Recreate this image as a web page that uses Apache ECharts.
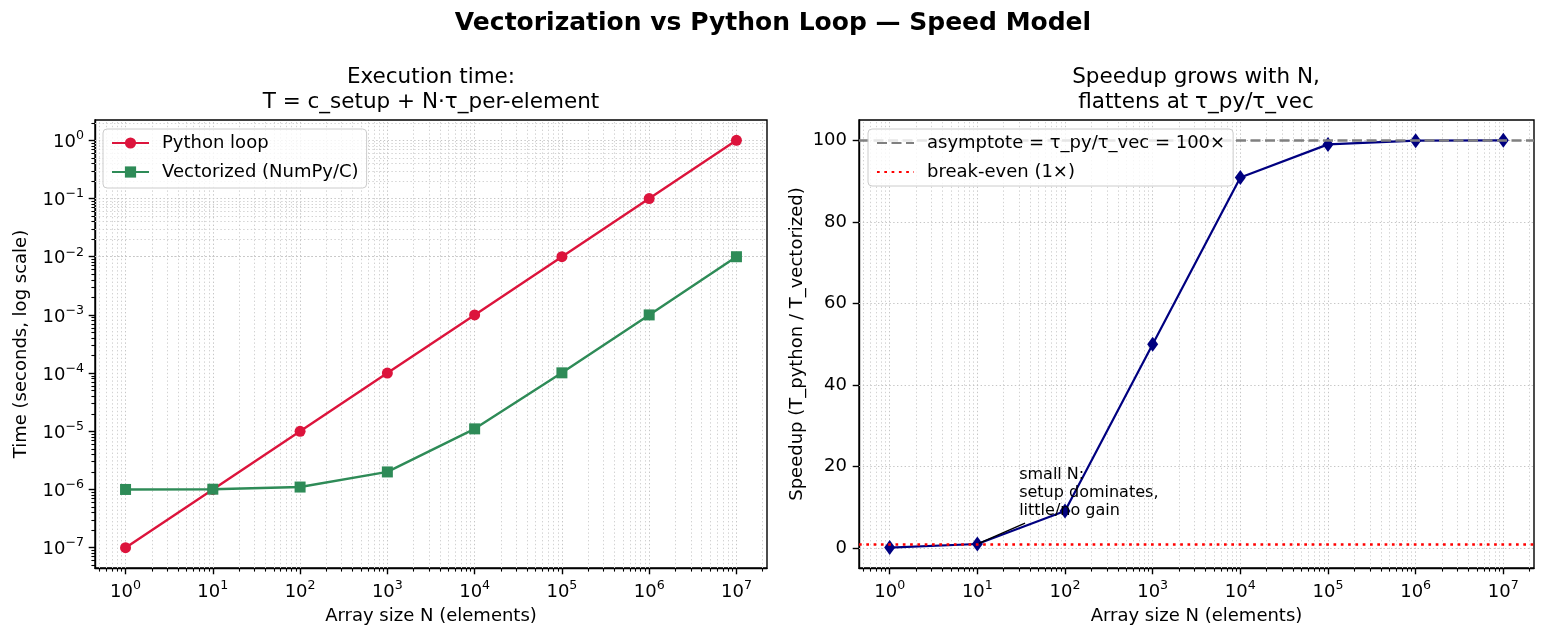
<!DOCTYPE html>
<html>
<head>
<meta charset="utf-8">
<script src="https://cdn.jsdelivr.net/npm/echarts@6/dist/echarts.min.js"></script>
<style>
html,body{margin:0;padding:0;background:#fff;}
#c{width:1546px;height:639px;}
</style>
</head>
<body>
<div id="c"></div>
<script>
// ---------------- data ----------------
const arraySizes   = [1, 10, 100, 1000, 10000, 100000, 1000000, 10000000];
const pythonTime   = [1e-7, 1e-6, 1e-5, 1e-4, 1e-3, 1e-2, 1e-1, 1];
const vectorTime   = [1.0e-6, 1.01e-6, 1.1e-6, 2.0e-6, 1.1e-5, 1.01e-4, 1.0e-3, 1.0e-2];
const speedupVals  = [0.1, 0.99, 9.1, 50, 90.9, 99.0, 99.9, 100.0];
const xTickVals    = [1, 10, 100, 1000, 10000, 100000, 1000000, 10000000];
const timeTickVals = [1e-7, 1e-6, 1e-5, 1e-4, 1e-3, 1e-2, 1e-1, 1];
const speedTicks   = [0, 20, 40, 60, 80, 100];
const asymptoteVal = 100;
const breakEvenVal = 1;
const mainTitle  = 'Vectorization vs Python Loop \u2014 Speed Model';
const leftTitle  = 'Execution time:\nT = c_setup + N\u00b7\u03c4_per-element';
const rightTitle = 'Speedup grows with N,\nflattens at \u03c4_py/\u03c4_vec';
const xName      = 'Array size N (elements)';
const yNameLeft  = 'Time (seconds, log scale)';
const yNameRight = 'Speedup (T_python / T_vectorized)';
const namePython = 'Python loop';
const nameVector = 'Vectorized (NumPy/C)';
const nameAsym   = 'asymptote = \u03c4_py/\u03c4_vec = 100\u00d7';
const nameBreak  = 'break-even (1\u00d7)';
const annText    = 'small N:\nsetup dominates,\nlittle/no gain';

// ---------------- helpers ----------------
const FONT = 'DejaVu Sans';
const X_MIN = Math.pow(10, -0.35), X_MAX = Math.pow(10, 7.35);
const T_MIN = Math.pow(10, -7.35), T_MAX = Math.pow(10, 0.35);
const S_MIN = -4.9, S_MAX = 104.98;

function minorLog(lo, hi) {
  const out = [];
  for (let e = Math.floor(Math.log10(lo)); e <= Math.ceil(Math.log10(hi)); e++) {
    for (let m = 2; m <= 9; m++) {
      const v = m * Math.pow(10, e);
      if (v >= lo && v <= hi) out.push(v);
    }
  }
  return out;
}
const xMinor = minorLog(X_MIN, X_MAX);
const tMinor = minorLog(T_MIN, T_MAX);

function powLabel(v) {
  const e = Math.round(Math.log10(v));
  const s = e < 0 ? '\u2212' + (-e) : '' + e;
  return '{b|10}{s|' + s + '}';
}
const rich = {
  b: {fontSize: 18, fontFamily: FONT, color: '#000', lineHeight: 22, verticalAlign: 'bottom'},
  s: {fontSize: 12.6, fontFamily: FONT, color: '#000', lineHeight: 13, verticalAlign: 'top'}
};
const AXC = '#000';
function majorLogAxis(grid, pos, lo, hi, ticks, extra) {
  return Object.assign({
    type: 'log', logBase: 10, gridIndex: grid, position: pos, min: lo, max: hi,
    axisLine: {show: true, onZero: false, lineStyle: {color: AXC, width: 1.4}},
    axisTick: {show: true, inside: false, length: 6.3, customValues: ticks, lineStyle: {color: AXC, width: 1.4}},
    axisLabel: {show: true, customValues: ticks, margin: 11, formatter: powLabel, rich: rich, hideOverlap: false},
    minorTick: {show: false}, splitLine: {show: false}, minorSplitLine: {show: false}
  }, extra || {});
}
function minorLogAxis(grid, pos, lo, hi, ticks) {
  return {
    type: 'log', logBase: 10, gridIndex: grid, position: pos, min: lo, max: hi,
    axisLine: {show: false, onZero: false},
    axisTick: {show: true, inside: false, length: 3.6, customValues: ticks, lineStyle: {color: AXC, width: 1.1}},
    axisLabel: {show: false},
    minorTick: {show: false}, splitLine: {show: false}, minorSplitLine: {show: false}
  };
}
const nameStyle = {fontSize: 18, fontFamily: FONT, color: '#000'};
const gridLineMajor = {color: '#c6c6c6', width: 1, type: [1.4, 2.4]};
const gridLineMinor = {color: '#d2d2d2', width: 1, type: [1.4, 2.4]};
function gridSeries(xi, yi, vx, hx, style) {
  const data = vx.map(v => ({xAxis: v})).concat(hx.map(v => ({yAxis: v})));
  return {
    type: 'line', xAxisIndex: xi, yAxisIndex: yi, data: [], silent: true, z: 1,
    markLine: {silent: true, symbol: 'none', z: 1, animation: false,
      label: {show: false}, emphasis: {disabled: true},
      lineStyle: style, data: data}
  };
}
const legendCommon = {
  orient: 'vertical', top: 129, itemWidth: 37, itemHeight: 14, itemGap: 9, z: 20,
  borderColor: '#cccccc', borderWidth: 1, borderRadius: 4, backgroundColor: 'rgba(255,255,255,0.8)',
  textStyle: {fontSize: 18, fontFamily: FONT, color: '#000', lineHeight: 20, padding: [0, 0, 0, 8]},
  selectedMode: false
};

const option = {
  animation: false,
  backgroundColor: '#fff',
  textStyle: {fontFamily: FONT},
  title: [
    {text: mainTitle, left: 773, textAlign: 'center', top: 8, padding: 0,
     textStyle: {fontSize: 25, fontWeight: 'bold', fontFamily: FONT, color: '#000', lineHeight: 30}},
    {text: leftTitle, left: 431, textAlign: 'center', top: 65, padding: 0,
     textStyle: {fontSize: 21.5, fontWeight: 'normal', fontFamily: FONT, color: '#000', lineHeight: 25}},
    {text: rightTitle, left: 1196, textAlign: 'center', top: 65, padding: 0,
     textStyle: {fontSize: 21.5, fontWeight: 'normal', fontFamily: FONT, color: '#000', lineHeight: 25}}
  ],
  legend: [
    Object.assign({}, legendCommon, {data: [namePython, nameVector], left: 103, padding: [4, 8, 6, 8]}),
    Object.assign({}, legendCommon, {data: [nameAsym, nameBreak], left: 868, padding: [4, 8, 4, 8],
      itemStyle: {opacity: 0}})
  ],
  grid: [
    {left: 95, top: 120, width: 672, height: 448, show: true, borderColor: '#000', borderWidth: 1.4, backgroundColor: 'transparent', containLabel: false},
    {left: 859, top: 120, width: 675, height: 448, show: true, borderColor: '#000', borderWidth: 1.4, backgroundColor: 'transparent', containLabel: false}
  ],
  xAxis: [
    majorLogAxis(0, 'bottom', X_MIN, X_MAX, xTickVals,
      {name: xName, nameLocation: 'middle', nameGap: 39, nameTextStyle: nameStyle}),
    minorLogAxis(0, 'bottom', X_MIN, X_MAX, xMinor),
    majorLogAxis(1, 'bottom', X_MIN, X_MAX, xTickVals,
      {name: xName, nameLocation: 'middle', nameGap: 39, nameTextStyle: nameStyle}),
    minorLogAxis(1, 'bottom', X_MIN, X_MAX, xMinor)
  ],
  yAxis: [
    majorLogAxis(0, 'left', T_MIN, T_MAX, timeTickVals,
      {name: yNameLeft, nameLocation: 'middle', nameGap: 65, nameTextStyle: nameStyle}),
    minorLogAxis(0, 'left', T_MIN, T_MAX, tMinor),
    {type: 'value', gridIndex: 1, position: 'left', min: S_MIN, max: S_MAX,
     name: yNameRight, nameLocation: 'middle', nameGap: 53, nameTextStyle: nameStyle,
     axisLine: {show: true, onZero: false, lineStyle: {color: AXC, width: 1.4}},
     axisTick: {show: true, inside: false, length: 6.3, customValues: speedTicks, lineStyle: {color: AXC, width: 1.4}},
     axisLabel: {show: true, customValues: speedTicks, margin: 12, fontSize: 18, fontFamily: FONT, color: '#000'},
     splitLine: {show: false}, minorTick: {show: false}}
  ],
  series: [
    gridSeries(0, 0, xMinor, tMinor, gridLineMinor),
    gridSeries(0, 0, xTickVals, timeTickVals, gridLineMajor),
    gridSeries(2, 2, xMinor, [], gridLineMinor),
    gridSeries(2, 2, xTickVals, speedTicks, gridLineMajor),
    {
      name: namePython, type: 'line', xAxisIndex: 0, yAxisIndex: 0, z: 3,
      data: arraySizes.map((n, i) => [n, pythonTime[i]]),
      symbol: 'circle', symbolSize: 11, showSymbol: true,
      lineStyle: {color: '#DC143C', width: 2.4}, itemStyle: {color: '#DC143C'}
    },
    {
      name: nameVector, type: 'line', xAxisIndex: 0, yAxisIndex: 0, z: 4,
      data: arraySizes.map((n, i) => [n, vectorTime[i]]),
      symbol: 'rect', symbolSize: 11, showSymbol: true,
      lineStyle: {color: '#2E8B57', width: 2.4}, itemStyle: {color: '#2E8B57'}
    },
    {
      name: 'Speedup', type: 'line', xAxisIndex: 2, yAxisIndex: 2, z: 3,
      data: arraySizes.map((n, i) => [n, speedupVals[i]]),
      symbol: 'diamond', symbolSize: [11, 15], showSymbol: true,
      lineStyle: {color: '#000080', width: 2.2}, itemStyle: {color: '#000080'},
      markLine: {
        silent: true, symbol: ['none', 'arrow'], symbolSize: [0, 10], z: 6, animation: false,
        label: {show: false}, lineStyle: {color: '#000', width: 1.4, type: 'solid'},
        data: [[{coord: [35, 6.1]}, {coord: [10.4, 1.15]}]]
      },
      markPoint: {
        silent: true, symbol: 'circle', symbolSize: 0, animation: false,
        data: [{coord: [30, 8]}],
        label: {show: true, formatter: annText, position: [0, 0], align: 'left', verticalAlign: 'bottom',
          offset: [0, 4], fontSize: 16, lineHeight: 18, fontFamily: FONT, color: '#000'}
      }
    },
    {
      name: nameAsym, type: 'line', xAxisIndex: 2, yAxisIndex: 2, z: 5, data: [], symbol: 'none',
      lineStyle: {color: '#808080', width: 2.7, type: [10, 4.5]}, itemStyle: {color: '#808080'},
      markLine: {silent: true, symbol: 'none', z: 5, animation: false, label: {show: false},
        lineStyle: {color: '#808080', width: 2.7, type: [10, 4.5]}, data: [{yAxis: asymptoteVal}]}
    },
    {
      name: nameBreak, type: 'line', xAxisIndex: 2, yAxisIndex: 2, z: 5, data: [], symbol: 'none',
      lineStyle: {color: '#FF0000', width: 2.7, type: [2.7, 4.6]}, itemStyle: {color: '#FF0000'},
      markLine: {silent: true, symbol: 'none', z: 5, animation: false, label: {show: false},
        lineStyle: {color: '#FF0000', width: 2.7, type: [2.7, 4.6]}, data: [{yAxis: breakEvenVal}]}
    }
  ]
};
const chart = echarts.init(document.getElementById('c'), null, {renderer: 'canvas'});
chart.setOption(option);
</script>
</body>
</html>
